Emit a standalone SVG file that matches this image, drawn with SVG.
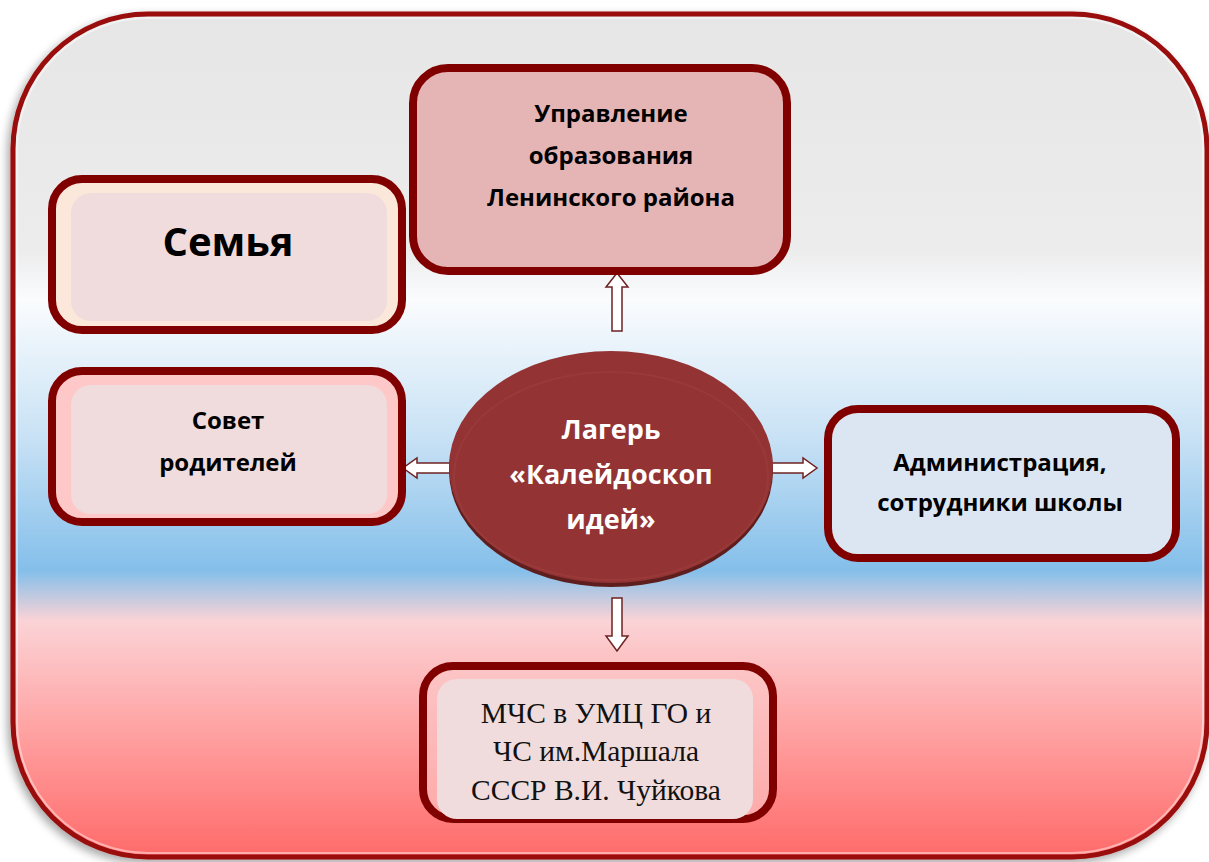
<svg xmlns="http://www.w3.org/2000/svg" width="1209" height="862" viewBox="0 0 1209 862">
<defs>
<linearGradient id="bg" x1="0" y1="0" x2="0" y2="1">
<stop offset="0" stop-color="#e6e6e6"/>
<stop offset="0.28" stop-color="#ececec"/>
<stop offset="0.34" stop-color="#fafcfe"/>
<stop offset="0.50" stop-color="#c9e2f5"/>
<stop offset="0.66" stop-color="#84bfea"/>
<stop offset="0.72" stop-color="#fbd3d6"/>
<stop offset="0.85" stop-color="#ffa2a2"/>
<stop offset="1" stop-color="#ff6a6a"/>
</linearGradient>
<filter id="sh" x="-5%" y="-5%" width="110%" height="110%">
<feGaussianBlur in="SourceAlpha" stdDeviation="5"/>
<feOffset dx="-3" dy="4"/>
<feComponentTransfer><feFuncA type="linear" slope="0.35"/></feComponentTransfer>
<feMerge><feMergeNode/><feMergeNode in="SourceGraphic"/></feMerge>
</filter>
</defs>
<style>
.box{stroke:#800000;stroke-width:8}
.inner{fill:#f0dcdc}
.t{font-family:"Open Sans","Liberation Sans",sans-serif;font-weight:700;fill:#000;text-anchor:middle}
.w{font-family:"Open Sans","Liberation Sans",sans-serif;font-weight:700;fill:#fff;text-anchor:middle}
.s{font-family:"Liberation Serif","Times New Roman",serif;fill:#111;text-anchor:middle}
.arr{fill:#fff;stroke:#6e2222;stroke-width:1.5;stroke-linejoin:miter}
</style>
<rect width="1209" height="862" fill="#fff"/>
<g id="frame" filter="url(#sh)">
<rect x="13" y="14" width="1194" height="843" rx="135" ry="135" fill="url(#bg)" stroke="#990a0a" stroke-width="5"/>
<rect x="17" y="18" width="1186" height="835" rx="131" ry="131" fill="none" stroke="#ffffff" stroke-opacity="0.45" stroke-width="2"/>
</g>
<g id="connectors">
<path class="arr" d="M612,331 L612,287 L606,287 L617,273 L628,287 L622,287 L622,331 Z"/>
<path class="arr" d="M612,598 L612,636 L606,636 L617,651 L628,636 L622,636 L622,598 Z"/>
<path class="arr" d="M450,463 L417,463 L417,458 L403,468 L417,478 L417,473 L450,473 Z"/>
<path class="arr" d="M771,463 L803,463 L803,458 L817,468 L803,478 L803,473 L771,473 Z"/>
</g>
<g id="node-upravlenie">
<rect class="box" x="413" y="68" width="374" height="203" rx="35" fill="#e5b5b5"/>
<text class="t" font-size="24"><tspan x="611" y="122">Управление</tspan><tspan x="611" y="164">образования</tspan><tspan x="611" y="206">Ленинского района</tspan></text>
</g>
<g id="node-semya">
<rect class="box" x="52" y="179" width="350" height="151" rx="30" fill="#fce8da"/>
<rect class="inner" x="71" y="193" width="316" height="128" rx="20"/>
<text class="t" font-size="40" x="228" y="256">Семья</text>
</g>
<g id="node-sovet">
<rect class="box" x="52" y="371" width="350" height="151" rx="30" fill="#ffc8c8"/>
<rect class="inner" x="71" y="385" width="316" height="129" rx="20"/>
<text class="t" font-size="24"><tspan x="228" y="429">Совет</tspan><tspan x="228" y="471">родителей</tspan></text>
</g>
<g id="node-lager">
<ellipse cx="611" cy="471" rx="162" ry="116" fill="#5e1e1e"/>
<ellipse cx="611" cy="467" rx="162" ry="116" fill="#933333"/>
<ellipse cx="611" cy="476" rx="157" ry="104" fill="none" stroke="#a84848" stroke-opacity="0.3" stroke-width="2"/>
<text class="w" font-size="27"><tspan x="611" y="439">Лагерь</tspan><tspan x="611" y="484">«Калейдоскоп</tspan><tspan x="611" y="529">идей»</tspan></text>
</g>
<g id="node-admin">
<rect class="box" x="828" y="409" width="348" height="149" rx="30" fill="#dce6f2"/>
<text class="t" font-size="24"><tspan x="1000" y="471">Администрация,</tspan><tspan x="1000" y="511">сотрудники школы</tspan></text>
</g>
<g id="node-mchs">
<rect class="box" x="423" y="666" width="350" height="153" rx="30" fill="#fccaca" fill-opacity="0.6"/>
<rect class="inner" x="437" y="679" width="316" height="140" rx="20"/>
<text class="s" font-size="29.5"><tspan x="596" y="723">МЧС в УМЦ ГО и</tspan><tspan x="596" y="761">ЧС им.Маршала</tspan><tspan x="596" y="800">СССР В.И. Чуйкова</tspan></text>
</g>
</svg>
